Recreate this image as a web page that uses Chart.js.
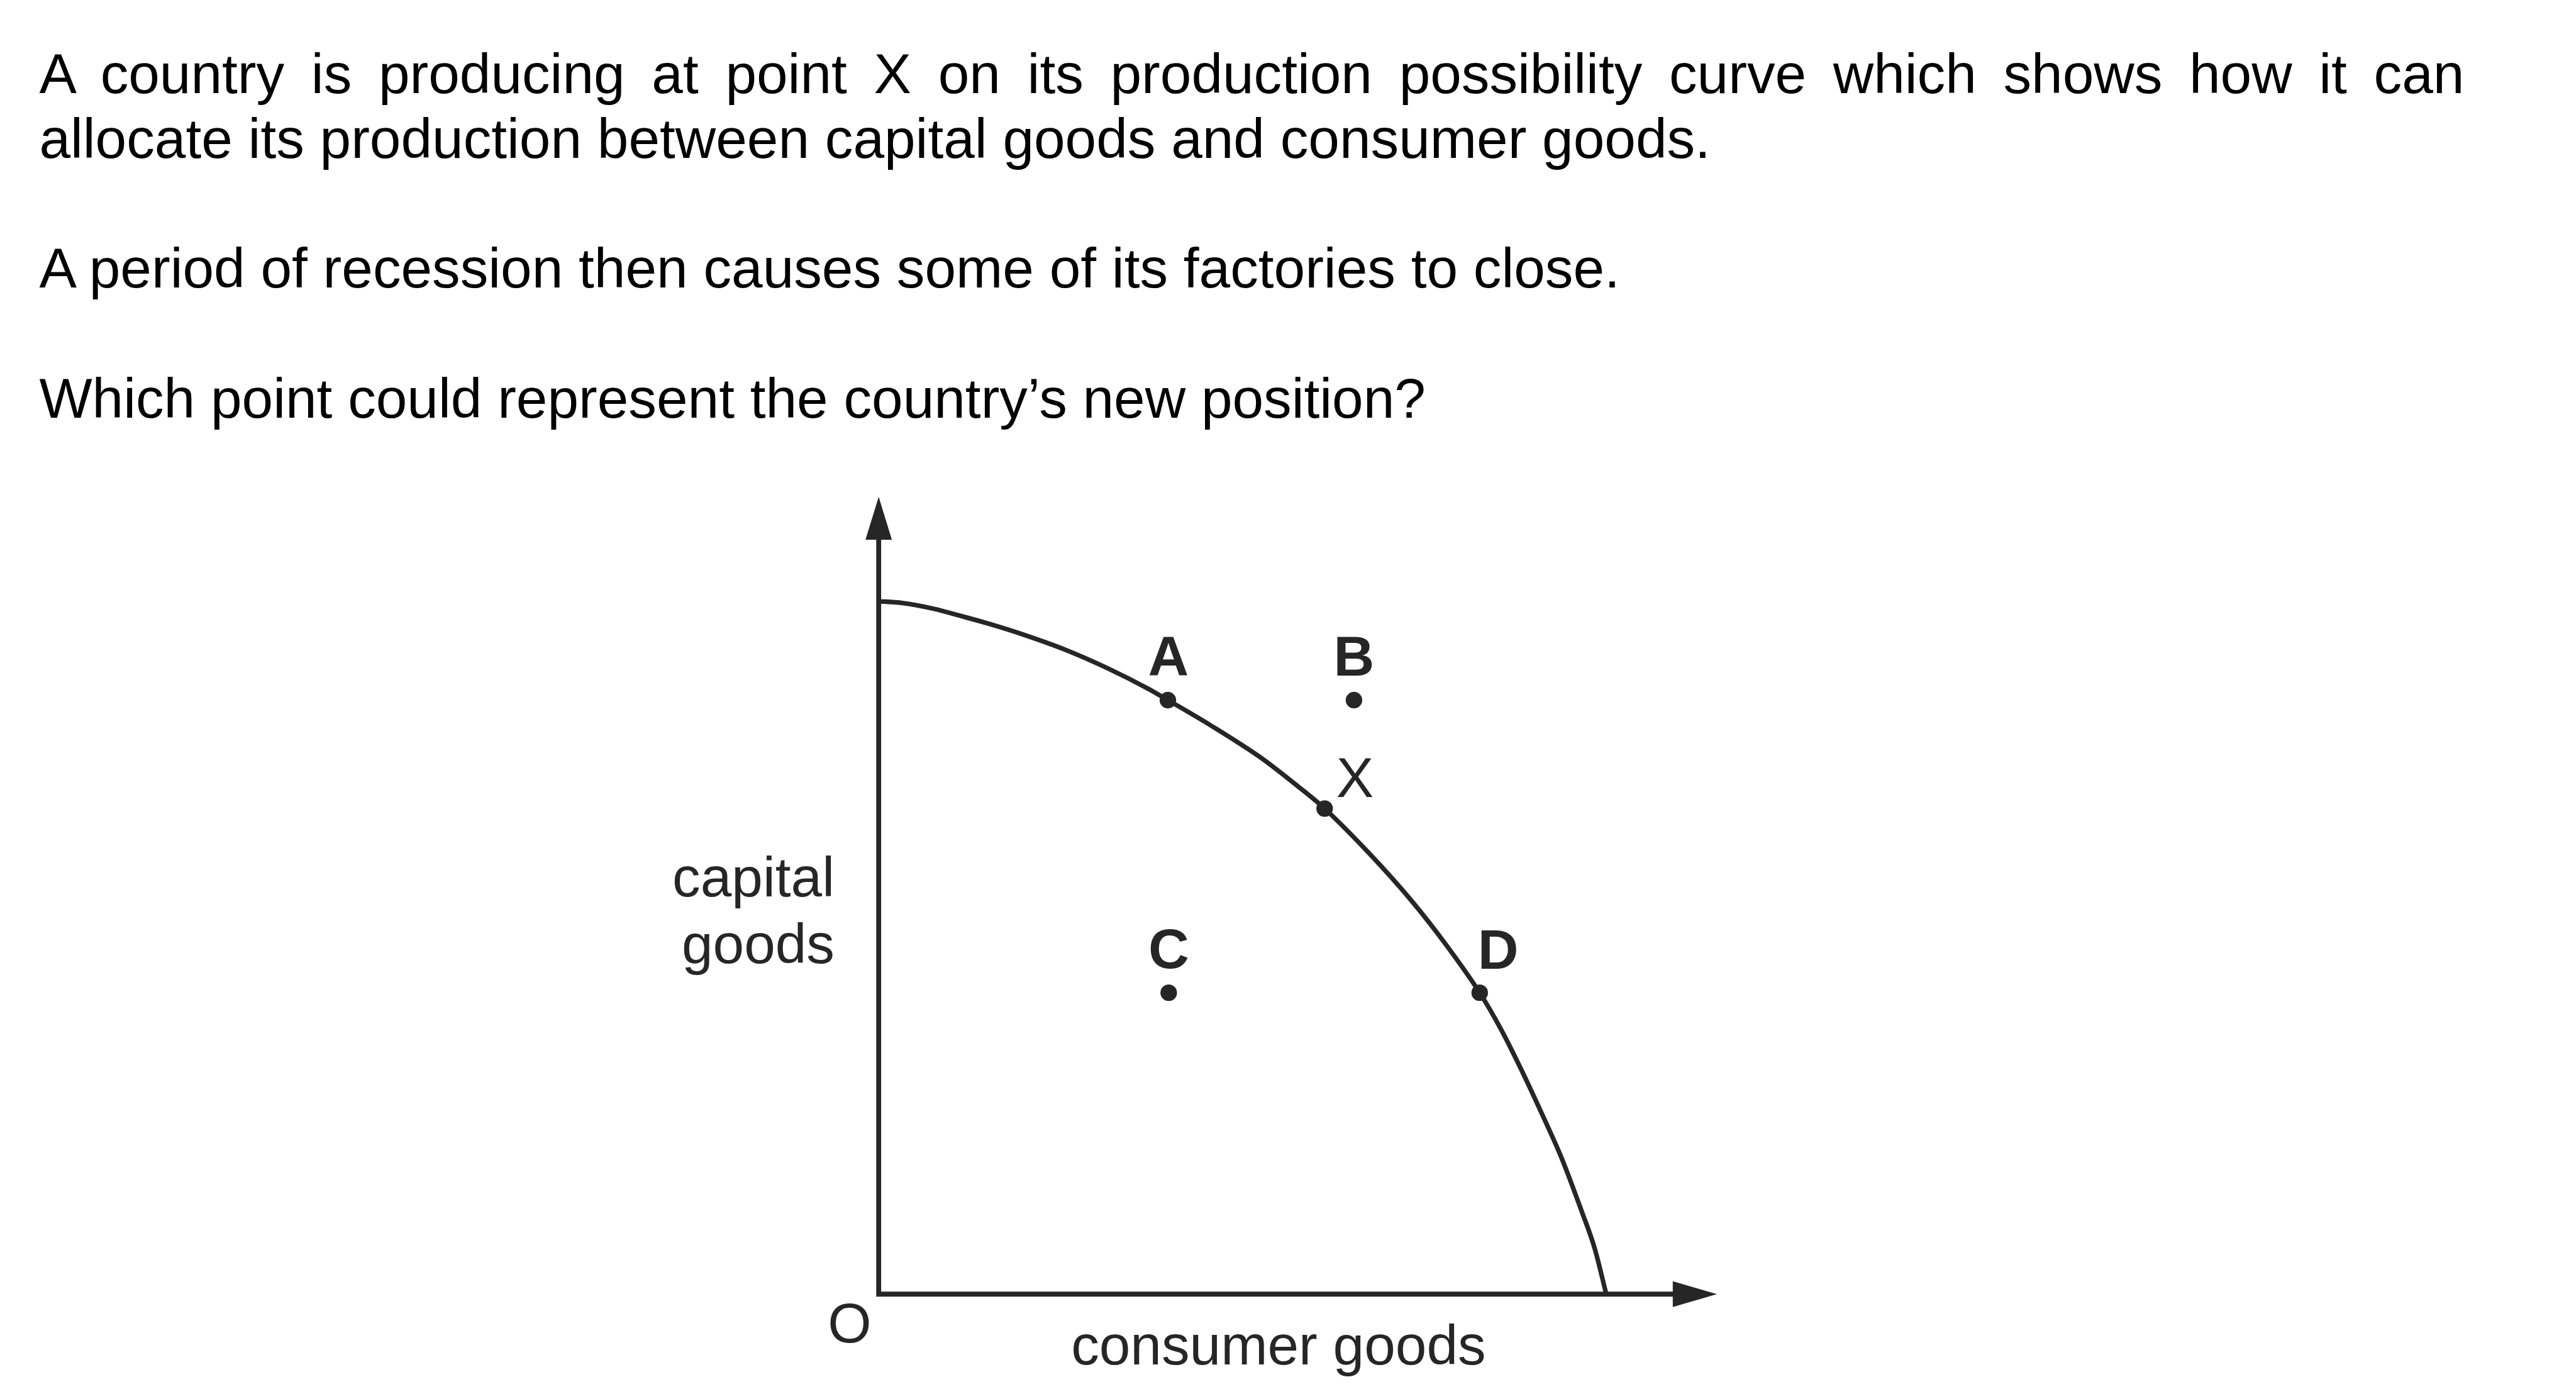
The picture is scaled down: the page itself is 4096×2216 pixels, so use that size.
<!DOCTYPE html>
<html>
<head>
<meta charset="utf-8">
<script src="https://cdn.jsdelivr.net/npm/chart.js@4.4.1/dist/chart.umd.min.js"></script>
<style>
  html, body { margin: 0; padding: 0; background: #fff; }
  #page { position: relative; width: 4096px; height: 2216px; overflow: hidden; }
  #wrap { position: absolute; left: 0; top: 0; width: 4096px; height: 2216px; }
  .q {
    position: absolute; left: 62.4px;
    font-family: "Liberation Sans", Arial, sans-serif;
    font-size: 89.2px; line-height: 100px; color: #000;
    white-space: nowrap;
  }
  #q1 { width: 3856px; white-space: normal; text-align: justify; text-align-last: justify; }
</style>
</head>
<body>
<div id="page">
  <div id="wrap"><canvas id="ppc"></canvas></div>
  <div class="q" id="q1" style="top:67.4px">A country is producing at point X on its production possibility curve which shows how it can</div>
  <div class="q" style="top:169.7px">allocate its production between capital goods and consumer goods.</div>
  <div class="q" style="top:376.4px">A period of recession then causes some of its factories to close.</div>
  <div class="q" style="top:583.2px">Which point could represent the country’s new position?</div>
</div>
<script>
const S = 0.975; // reference -> window
const ink = "#262626";
const fontFamily = '"Liberation Sans", Arial, sans-serif';

// ---- data (0..100 on both axes, 100 = arrow tips) ----
const curveX = [0, 2.7, 6.4, 10.0, 13.7, 17.3, 22.3, 27.3, 32.2, 34.5, 39.5, 45.7, 50.0, 53.2,
                58.5, 63.6, 67.7, 71.7, 74.2, 76.6, 79.0, 81.5, 83.9, 85.4, 86.8];
const curveY = [86.9, 86.7, 86.0, 85.0, 83.9, 82.7, 80.8, 78.5, 75.9, 74.5, 71.4, 67.2, 63.7, 60.9,
                55.3, 49.3, 43.8, 37.8, 33.3, 28.3, 22.9, 17.0, 10.3, 5.8, 0];

const pointNames = ["A", "B", "X", "C", "D"];
const pointX = [34.5, 56.7, 53.2, 34.6, 71.7];
const pointY = [74.5, 74.5, 60.9, 37.8, 37.8];

const xTitle = "consumer goods";
const yTitle = ["capital", "goods"];
const originLabel = "O";

// label placement (reference px, relative to the dot)
const labelPos = {
  A: { dx: 1, dy: -40, bold: true },
  B: { dx: 0, dy: -40, bold: true },
  X: { dx: 49.5, dy: -19, bold: false },
  C: { dx: 0, dy: -40, bold: true },
  D: { dx: 30, dy: -39, bold: true },
};

const curveData = curveX.map((x, i) => ({ x: x, y: curveY[i] }));
const pointData = pointX.map((x, i) => ({ x: x, y: pointY[i] }));

const font = (px, bold) => (bold ? "bold " : "") + (px * S) + "px " + fontFamily;

const decor = {
  id: "decor",
  beforeDatasetsDraw(chart) {
    const { ctx, scales: { x, y } } = chart;
    const ox = x.getPixelForValue(0), oy = y.getPixelForValue(0);
    const tx = x.getPixelForValue(x.max), ty = y.getPixelForValue(y.max);
    ctx.save();
    ctx.strokeStyle = ink;
    ctx.fillStyle = ink;
    ctx.lineWidth = 8 * S;
    ctx.lineJoin = "miter";
    ctx.beginPath();
    ctx.moveTo(ox, ty + 60 * S);
    ctx.lineTo(ox, oy);
    ctx.lineTo(tx - 60 * S, oy);
    ctx.stroke();

    // arrow heads
    ctx.beginPath();
    ctx.moveTo(ox, ty);
    ctx.lineTo(ox - 21.5 * S, ty + 70 * S);
    ctx.lineTo(ox + 21.5 * S, ty + 70 * S);
    ctx.closePath();
    ctx.fill();
    ctx.beginPath();
    ctx.moveTo(tx, oy);
    ctx.lineTo(tx - 72 * S, oy - 21 * S);
    ctx.lineTo(tx - 72 * S, oy + 21 * S);
    ctx.closePath();
    ctx.fill();

    // axis texts
    ctx.font = font(91.5, false);
    ctx.textBaseline = "alphabetic";
    ctx.textAlign = "center";
    ctx.fillText(originLabel, ox - 47.5 * S, oy + 79 * S);
    ctx.fillText(xTitle, ox + 652 * S, oy + 115 * S);
    ctx.textAlign = "right";
    ctx.fillText(yTitle[0], ox - 72 * S, oy - 648 * S);
    ctx.fillText(yTitle[1], ox - 72 * S, oy - 540 * S);
    ctx.restore();
  },
  afterDatasetsDraw(chart) {
    const { ctx } = chart;
    const meta = chart.getDatasetMeta(1);
    ctx.save();
    ctx.fillStyle = ink;
    ctx.textAlign = "center";
    ctx.textBaseline = "alphabetic";
    meta.data.forEach((el, i) => {
      const p = labelPos[pointNames[i]];
      ctx.font = font(p.bold ? 92 : 91.5, p.bold);
      ctx.fillText(pointNames[i], el.x + p.dx * S, el.y + p.dy * S);
    });
    ctx.restore();
  }
};

new Chart(document.getElementById("ppc"), {
  type: "scatter",
  data: {
    datasets: [
      {
        data: curveData,
        showLine: true,
        borderColor: ink,
        borderWidth: 7.5 * S,
        pointRadius: 0,
        cubicInterpolationMode: "monotone",
        clip: false,
      },
      {
        data: pointData,
        showLine: false,
        pointRadius: 13.5 * S,
        pointBackgroundColor: ink,
        pointBorderWidth: 0,
        clip: false,
      },
    ],
  },
  options: {
    responsive: true,
    maintainAspectRatio: false,
    devicePixelRatio: 1,
    animation: false,
    events: [],
    layout: {
      padding: { left: 1433 * S, right: 4096 - 2800 * S, top: 810 * S, bottom: 2216 - 2110 * S },
    },
    plugins: { legend: { display: false }, tooltip: { enabled: false } },
    scales: {
      x: { type: "linear", min: 0, max: 100, display: false },
      y: { type: "linear", min: 0, max: 100, display: false },
    },
  },
  plugins: [decor],
});
</script>
</body>
</html>
